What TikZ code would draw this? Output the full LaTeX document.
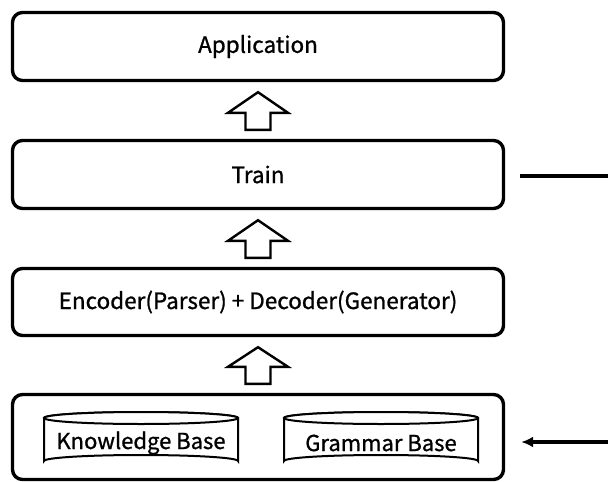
\documentclass[tikz,border=0pt]{standalone}
\usepackage{fontspec}
\setmainfont{Noto Sans CJK SC}[FakeBold=1]
\usetikzlibrary{calc,arrows.meta}
\begin{document}
\begin{tikzpicture}[x=1pt,y=-1pt,
  layer/.style={draw, line width=3.4pt, rounded corners=10pt, minimum width=491pt, inner sep=0pt, font=\fontsize{22.5}{26}\selectfont},
  dbtext/.style={font=\fontsize{22}{26}\selectfont, inner sep=0pt},
  blockarrow/.style={draw, line width=2.4pt, fill=white, line join=miter},
  cyl/.style={draw, line width=2pt, fill=white},
  conn/.style={line width=3.2pt}]
\useasboundingbox (0,0) rectangle (608,482);
% layers
\node[layer, minimum height=68pt] (app) at (258,46.5) {Application};
\node[layer, minimum height=68pt] (train) at (258,174.5) {Train};
\node[layer, minimum height=67pt] (enc) at (258,302) {Encoder(Parser) + Decoder(Generator)};
\node[layer, minimum height=85pt] (kb) at (258,437) {};
% block arrows
\foreach \lo/\hi in {train/app, enc/train, kb/enc}{
  \coordinate (b) at ($(\lo.north)+(0,-9)$);
  \coordinate (t) at ($(\hi.south)+(0,10)$);
  \draw[blockarrow] ($(b)+(-12.5,0)$) -- ($(b)+(12.5,0)$) -- ($(b)+(12.5,-17)$) -- ($(b)+(30,-17)$)
     -- (t) -- ($(b)+(-30,-17)$) -- ($(b)+(-12.5,-17)$) -- cycle;
}
% cylinders
\foreach \name/\cx/\lab in {know/141/Knowledge Base, gram/381/Grammar Base}{
  \draw[cyl] (\cx-97,418) -- (\cx-97,461) arc[start angle=180, end angle=360, x radius=97, y radius=6]
     -- (\cx+97,418) arc[start angle=0, end angle=-180, x radius=97, y radius=6] -- cycle;
  \draw[cyl] (\cx,418) ellipse[x radius=97, y radius=6];
  \node[dbtext] (\name) at (\cx,443) {\lab};
}
% side connectors
\coordinate (trainout) at (608,176);
\coordinate (kbin) at (608,442);
\draw[conn] ($(train.east)+(15,1.5)$) -- (trainout);
\draw[conn, -{Latex[length=12pt,width=11pt]}] (kbin) -- ($(kb.east)+(16,5)$);
\end{tikzpicture}
\end{document}
